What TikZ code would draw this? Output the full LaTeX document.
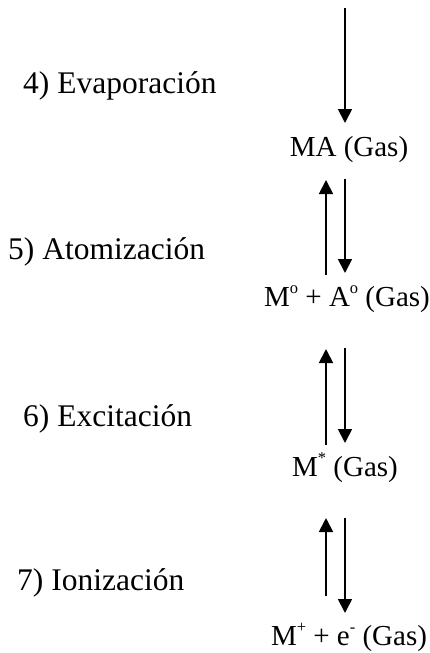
\documentclass[tikz,border=0pt]{standalone}
\usepackage{fontspec}
\setmainfont{Liberation Serif}
\usetikzlibrary{arrows.meta}

% raised small index for chemical species
\newcommand\supr[1]{\raisebox{0.42em}{\fontsize{16.5}{17}\selectfont #1}}

\tikzset{
  species/.style={anchor=base, inner sep=0pt, font=\fontsize{29}{34}\selectfont},
  stage/.style={anchor=base west, inner sep=0pt, font=\fontsize{31.5}{36}\selectfont},
  flow/.style={line width=1.8pt, -{Triangle[width=14pt,length=14pt]}}
}

\begin{document}
\begin{tikzpicture}[x=1pt,y=-1pt]
  \useasboundingbox (0,0) rectangle (430,653);

  % stage labels
  \node[stage] (evap) at (23,93)  {4) Evaporación};
  \node[stage] (atom) at (8,259)  {5) Atomización};
  \node[stage] (exci) at (23,426) {6) Excitación};
  \node[stage] (ioni) at (17,590) {7) Ionización};

  % species
  \node[species] (ma)    at (349,156) {MA (Gas)};
  \node[species] (mao)   at (347,306) {M\supr{o} + A\supr{o} (Gas)};
  \node[species] (mstar) at (345,476) {M\supr{*} (Gas)};
  \node[species] (mion)  at (349,645) {M\supr{+} + e\supr{-} (Gas)};

  % arrow ends
  \coordinate (top)  at (345,8);
  \coordinate (t4)   at (345,123);
  \coordinate (u5a)  at (326,275);
  \coordinate (u5b)  at (326,180);
  \coordinate (d5a)  at (345,179);
  \coordinate (d5b)  at (345,273);
  \coordinate (u6a)  at (326,445);
  \coordinate (u6b)  at (326,349);
  \coordinate (d6a)  at (345,348);
  \coordinate (d6b)  at (345,443);
  \coordinate (u7a)  at (326,596);
  \coordinate (u7b)  at (326,518);
  \coordinate (d7a)  at (345,518);
  \coordinate (d7b)  at (345,613);

  % evaporation
  \draw[flow] (top) -- (t4);
  % atomization
  \draw[flow] (u5a) -- (u5b);
  \draw[flow] (d5a) -- (d5b);
  % excitation
  \draw[flow] (u6a) -- (u6b);
  \draw[flow] (d6a) -- (d6b);
  % ionization
  \draw[flow] (u7a) -- (u7b);
  \draw[flow] (d7a) -- (d7b);
\end{tikzpicture}
\end{document}
